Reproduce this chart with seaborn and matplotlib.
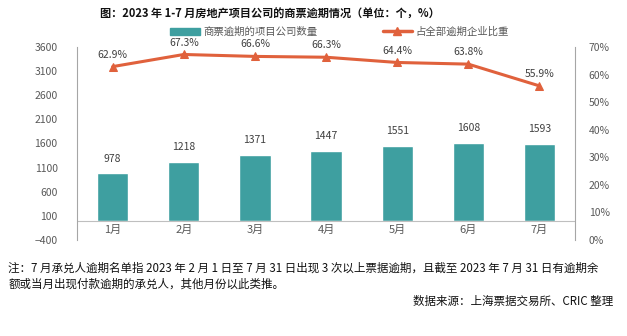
import matplotlib
matplotlib.use("Agg")
import matplotlib.pyplot as plt
import seaborn as sns
import pandas as pd
from matplotlib.lines import Line2D
from matplotlib.patches import Patch

months = ["1月", "2月", "3月", "4月", "5月", "6月", "7月"]
counts = [978, 1218, 1371, 1447, 1551, 1608, 1593]
shares = [62.9, 67.3, 66.6, 66.3, 64.4, 63.8, 55.9]
left_ticks = [-400, 100, 600, 1100, 1600, 2100, 2600, 3100, 3600]
right_ticks = [0, 10, 20, 30, 40, 50, 60, 70]
bar_label = "商票逾期的项目公司数量"
line_label = "占全部逾期企业比重"
title = "图：2023 年 1-7 月房地产项目公司的商票逾期情况（单位：个，%）"
note1 = "注：7 月承兑人逾期名单指 2023 年 2 月 1 日至 7 月 31 日出现 3 次以上票据逾期，且截至 2023 年 7 月 31 日有逾期余"
note2 = "额或当月出现付款逾期的承兑人，其他月份以此类推。"
source = "数据来源：上海票据交易所、CRIC 整理"

sns.set_theme(style="white")
plt.rcParams["font.family"] = ["Noto Sans CJK SC", "DejaVu Sans"]

bar_color = "#3E9FA0"
line_color = "#E0613C"
txt_gray = "#595959"

df = pd.DataFrame({"month": months, "count": counts, "share": shares})

fig = plt.figure(figsize=(6.27, 3.36), dpi=100)
ax = fig.add_axes([0.123, 0.286, 0.794, 0.574])
sns.barplot(data=df, x="month", y="count", color=bar_color, width=0.44,
            saturation=1, ax=ax)
ax.set_ylim(-400, 3600)
ax.set_yticks(left_ticks)
ax.set_xlim(-0.5, 6.5)
ax.axhline(0, color="#BFBFBF", lw=0.8, zorder=1)
ax.set_xlabel("")
ax.set_ylabel("")
for s in ["top", "right", "bottom"]:
    ax.spines[s].set_visible(False)
ax.spines["left"].set_color("#A6A6A6")
ax.spines["left"].set_linewidth(0.8)
ax.tick_params(axis="y", labelsize=7.5, colors=txt_gray, length=0, pad=14)
ax.tick_params(axis="x", labelsize=8, colors=txt_gray, length=0, pad=-11)
for p, v in zip(ax.patches, counts):
    ax.annotate(f"{v}", (p.get_x() + p.get_width() / 2, v), xytext=(0, 7),
                textcoords="offset points", ha="center", va="bottom",
                fontsize=7.5, color="#404040")

ax2 = ax.twinx()
sns.lineplot(data=df, x="month", y="share", color=line_color, lw=2.2,
             marker="^", markersize=6, markeredgecolor=line_color, ax=ax2)
ax2.set_ylim(0, 70)
ax2.set_yticks(right_ticks)
ax2.set_yticklabels([f"{t}%" for t in right_ticks])
ax2.set_ylabel("")
ax2.set_xlabel("")
for s in ["top", "left", "bottom"]:
    ax2.spines[s].set_visible(False)
ax2.spines["right"].set_color("#A6A6A6")
ax2.spines["right"].set_linewidth(0.8)
ax2.tick_params(axis="y", labelsize=7.5, colors=txt_gray, length=0, pad=10)
for i, v in enumerate(shares):
    ax2.annotate(f"{v}%", (i, v), xytext=(0, 5), textcoords="offset points",
                 ha="center", va="bottom", fontsize=7.5, color="#404040")

handles = [Patch(color=bar_color),
           Line2D([0], [0], color=line_color, lw=2.5, marker="^", markersize=6)]
fig.legend(handles, [bar_label, line_label], loc="center", ncol=2,
           bbox_to_anchor=(0.542, 0.905), frameon=False, fontsize=7.5,
           labelcolor=txt_gray, columnspacing=6.2, handlelength=2.8,
           handletextpad=0.4)

fig.text(0.43, 0.958, title, ha="center", va="center", fontsize=8,
         fontweight="bold", color="#111111")
fig.text(0.013, 0.203, note1, ha="left", va="center", fontsize=8.3, color="#111111")
fig.text(0.013, 0.153, note2, ha="left", va="center", fontsize=8.3, color="#111111")
fig.text(0.978, 0.103, source, ha="right", va="center", fontsize=8.3, color="#111111")

fig.savefig("out.png", dpi=100, facecolor="white")
